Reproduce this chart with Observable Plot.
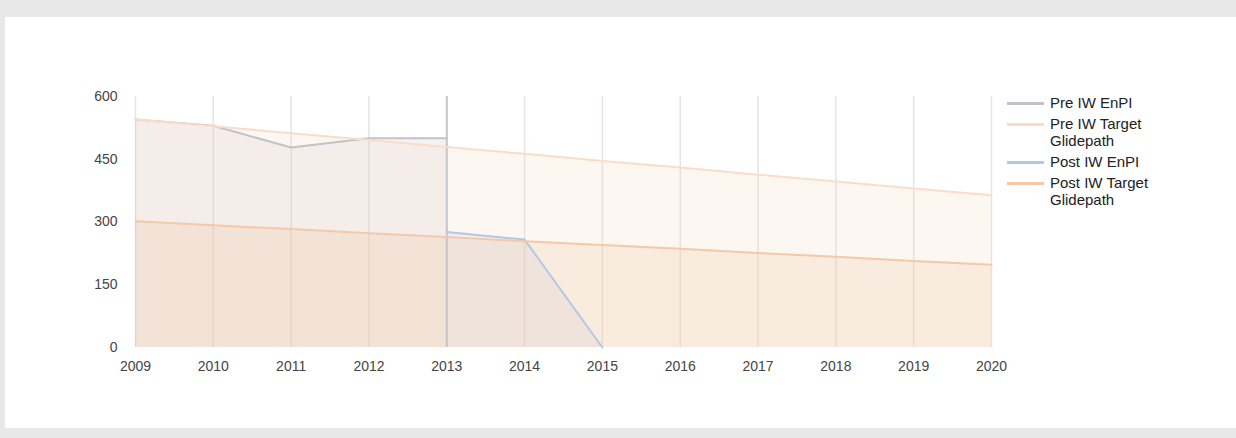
<!DOCTYPE html>
<html>
<head>
<meta charset="utf-8">
<script src="https://cdn.jsdelivr.net/npm/d3@7"></script>
<script src="https://cdn.jsdelivr.net/npm/@observablehq/plot@0.6"></script>
<style>
  html, body { margin: 0; padding: 0; background: #e8e8e8; width: 1236px; height: 438px; overflow: hidden; font-family: "Liberation Sans", Arial, sans-serif; }
  #panel { position: absolute; left: 5px; top: 17px; width: 1231px; height: 411px; background: #fff; }
  #chart { position: absolute; left: 0; top: 0; }
  #legend { position: absolute; left: 1007px; top: 94px; font-size: 15px; color: #222; }
  .item { position: relative; padding-left: 43px; width: 110px; line-height: 17px; margin-bottom: 4px; }
  .swatch { position: absolute; left: 0; top: 8px; width: 37px; height: 3px; }
</style>
</head>
<body>
<div id="panel"></div>
<div id="chart"></div>
<div id="legend"></div>
<script>
const years = [2009, 2010, 2011, 2012, 2013, 2014, 2015, 2016, 2017, 2018, 2019, 2020];
const preEnPIYears = [2009, 2010, 2011, 2012, 2013];
const preEnPI = [545, 530, 478, 500, 500];
const preTarget = [545, 529, 512, 496, 479, 463, 446, 430, 413, 397, 380, 364];
const postEnPIYears = [2013, 2014, 2015];
const postEnPI = [276, 258, 0];
const postTarget = [302, 292, 283, 273, 264, 254, 245, 236, 226, 217, 207, 198];
const yTicks = [0, 150, 300, 450, 600];
const baselineYear = [2013];
const seriesNames = ["Pre IW EnPI", "Pre IW Target Glidepath", "Post IW EnPI", "Post IW Target Glidepath"];
const seriesColors = ["#c2c2ca", "#f9ddca", "#b3c7e6", "#f3c9a8"];

const preE = preEnPIYears.map((y, i) => ({year: y, v: preEnPI[i]}));
const preT = years.map((y, i) => ({year: y, v: preTarget[i]}));
const postE = postEnPIYears.map((y, i) => ({year: y, v: postEnPI[i]}));
const postT = years.map((y, i) => ({year: y, v: postTarget[i]}));

const plot = Plot.plot({
  width: 1030,
  height: 438,
  marginLeft: 135,
  marginRight: 39,
  marginTop: 96,
  marginBottom: 91,
  style: {background: "transparent", fontFamily: "'Liberation Sans', Arial, sans-serif", fontSize: "14px", color: "#444"},
  x: {domain: [2009, 2020], ticks: years, tickFormat: d => String(d), tickSize: 0, tickPadding: 14, label: null},
  y: {domain: [0, 600], ticks: yTicks, tickSize: 0, tickPadding: 18, label: null},
  marks: [
    Plot.ruleX(years, {x: d => d, y1: 0, y2: 600, stroke: "#e9e2e2", strokeWidth: 1.5}),
    Plot.areaY(preE, {x: "year", y: "v", fill: "#bdb3b8", fillOpacity: 0.16}),
    Plot.areaY(preT, {x: "year", y: "v", fill: "#f7d6bf", fillOpacity: 0.2}),
    Plot.areaY(postE, {x: "year", y: "v", fill: "#b0b8d6", fillOpacity: 0.15}),
    Plot.areaY(postT, {x: "year", y: "v", fill: "#f0c6a2", fillOpacity: 0.25}),
    Plot.ruleX(baselineYear, {x: d => d, y1: 0, y2: 600, stroke: "#c6c6ca", strokeWidth: 2}),
    Plot.lineY(preE, {x: "year", y: "v", stroke: seriesColors[0], strokeWidth: 2}),
    Plot.lineY(preT, {x: "year", y: "v", stroke: seriesColors[1], strokeWidth: 2}),
    Plot.lineY(postE, {x: "year", y: "v", stroke: seriesColors[2], strokeWidth: 2}),
    Plot.lineY(postT, {x: "year", y: "v", stroke: seriesColors[3], strokeWidth: 2})
  ]
});
document.getElementById("chart").appendChild(plot);

const legend = document.getElementById("legend");
seriesNames.forEach((name, i) => {
  const item = document.createElement("div");
  item.className = "item";
  const sw = document.createElement("div");
  sw.className = "swatch";
  sw.style.background = seriesColors[i];
  item.appendChild(sw);
  item.appendChild(document.createTextNode(name));
  legend.appendChild(item);
});
</script>
</body>
</html>
